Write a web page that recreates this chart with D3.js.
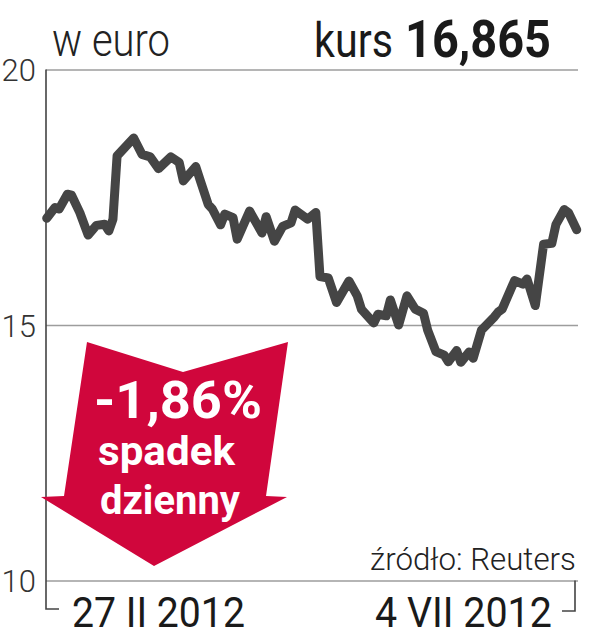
<!DOCTYPE html>
<html><head><meta charset="utf-8">
<script src="https://cdn.jsdelivr.net/npm/d3@7"></script>
<style>body{margin:0;background:#fff} svg{display:block}</style>
</head><body><svg id="c" width="611" height="640"></svg>
<script>
// ---- data ----
const dates = ["2012-02-27","2012-02-29","2012-03-01","2012-03-03","2012-03-04","2012-03-06","2012-03-08","2012-03-10","2012-03-12","2012-03-13","2012-03-14","2012-03-15","2012-03-19","2012-03-21","2012-03-23","2012-03-25","2012-03-28","2012-03-30","2012-03-31","2012-04-03","2012-04-04","2012-04-06","2012-04-07","2012-04-09","2012-04-10","2012-04-12","2012-04-13","2012-04-16","2012-04-19","2012-04-20","2012-04-22","2012-04-24","2012-04-26","2012-04-27","2012-04-30","2012-05-02","2012-05-03","2012-05-05","2012-05-07","2012-05-10","2012-05-12","2012-05-13","2012-05-16","2012-05-17","2012-05-19","2012-05-20","2012-05-22","2012-05-24","2012-05-26","2012-05-28","2012-05-29","2012-05-31","2012-06-02","2012-06-03","2012-06-05","2012-06-06","2012-06-08","2012-06-09","2012-06-11","2012-06-14","2012-06-15","2012-06-16","2012-06-19","2012-06-21","2012-06-22","2012-06-24","2012-06-26","2012-06-28","2012-06-29","2012-07-01","2012-07-02","2012-07-04"];
const values = [17.09,17.30,17.27,17.56,17.54,17.20,16.76,16.95,16.97,16.84,17.07,18.31,18.66,18.34,18.29,18.06,18.29,18.18,17.82,18.10,17.85,17.36,17.27,16.96,17.17,17.10,16.68,17.23,16.80,17.12,16.64,16.93,17.00,17.25,17.07,17.20,15.95,15.92,15.44,15.86,15.57,15.31,15.04,15.21,15.18,15.49,15.00,15.57,15.31,15.23,14.90,14.48,14.41,14.28,14.50,14.27,14.47,14.35,14.90,15.15,15.25,15.31,15.87,15.80,15.90,15.38,16.58,16.60,16.97,17.26,17.20,16.865];
const yTicks = [10, 15, 20];
const xLabels = ["27 II 2012", "4 VII 2012"];
const unitLabel = "w euro";
const lastLabel = "kurs";
const lastValue = "16,865";
const changeLines = ["-1,86%", "spadek", "dzienny"];
const sourceLabel = "źródło: Reuters";

// ---- drawing ----
const svg = d3.select("#c");
const parse = d3.timeParse("%Y-%m-%d");
const data = dates.map((d, i) => ({date: parse(d), value: values[i]}));
const FONT = "Roboto, 'Open Sans', sans-serif";

const left = 46, right = 578;
const x = d3.scaleTime().domain([parse(dates[0]), parse(dates[dates.length - 1])]).range([46.7, 576.7]);
const y = d3.scaleLinear().domain([10, 20]).range([580.5, 69.5]);

// text fitted to a width by horizontal scaling (condensed look)
function fitText(str, x0, baseline, width, size, weight, fill) {
  const t = svg.append("text").text(str)
    .attr("font-family", FONT).attr("font-weight", weight).attr("font-size", size)
    .attr("fill", fill);
  const w = t.node().getComputedTextLength();
  t.attr("transform", `translate(${x0},${baseline}) scale(${width / w},1)`);
  return t;
}

// gridlines + tick labels via axis
const yAxis = d3.axisLeft(y).tickValues(yTicks).tickSize(-(right - left)).tickFormat(d3.format("d"));
const gAx = svg.append("g").attr("transform", `translate(${left},0)`).call(yAxis);
gAx.select(".domain").remove();
gAx.selectAll(".tick line").attr("stroke", "#9d9d9d").attr("stroke-width", 1.4);
gAx.selectAll(".tick text")
  .attr("x", -10).attr("dy", "0.36em")
  .attr("fill", "#333").attr("font-family", FONT)
  .attr("font-weight", 300).attr("font-size", 31);

// vertical axis with bottom-left bracket
const bracketBottom = 609;
svg.append("path")
  .attr("d", `M${left},${y(20)}V${bracketBottom}H${left + 13}`)
  .attr("fill", "none").attr("stroke", "#444").attr("stroke-width", 1.6);
// right bracket
svg.append("path")
  .attr("d", `M${right - 3},${y(10)}V${bracketBottom + 2}H${right - 16}`)
  .attr("fill", "none").attr("stroke", "#444").attr("stroke-width", 1.6);

// price line
const line = d3.line().x(d => x(d.date)).y(d => y(d.value));
svg.append("path").datum(data)
  .attr("d", line)
  .attr("fill", "none").attr("stroke", "#454545")
  .attr("stroke-width", 9).attr("stroke-linejoin", "round").attr("stroke-linecap", "round");

// red arrow annotation
svg.append("path")
  .attr("d", "M87,342 L183,372 L288,342 L266,496 L287,497 L154,566 L41,497 L64,496 Z")
  .attr("fill", "#d0063c");
fitText(changeLines[0], 94, 418, 168, 52, 700, "#fff");
fitText(changeLines[1], 98, 465, 137, 41, 700, "#fff");
fitText(changeLines[2], 100, 514, 140, 41, 700, "#fff");

// top texts
fitText(unitLabel, 52, 56, 118, 46, 300, "#222");
fitText(lastLabel, 314, 57, 79, 48, 400, "#1a1a1a");
fitText(lastValue, 405, 57, 146, 52, 700, "#1a1a1a");

// source
fitText(sourceLabel, 370, 570, 206, 32, 300, "#222");

// bottom date labels
fitText(xLabels[0], 72, 627, 173, 42, 400, "#1a1a1a");
fitText(xLabels[1], 375, 627, 177, 42, 400, "#1a1a1a");
</script></body></html>
